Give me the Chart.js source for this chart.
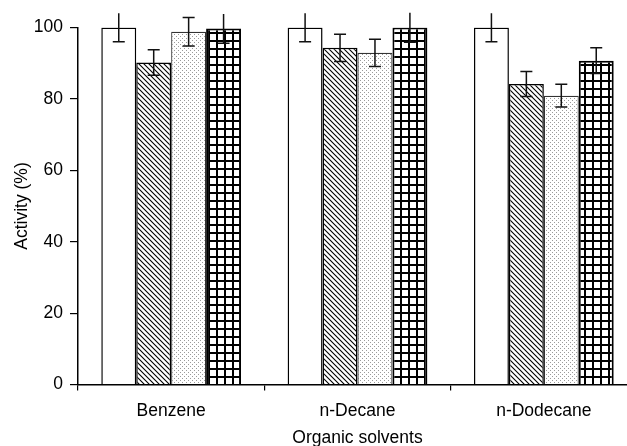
<!DOCTYPE html>
<html>
<head>
<meta charset="utf-8">
<script src="https://cdn.jsdelivr.net/npm/chart.js@4"></script>
<style>
  html, body { margin: 0; padding: 0; background: #fff; overflow: hidden; }
  #wrap { width: 640px; height: 446px; }
</style>
</head>
<body>
<div id="wrap"><canvas id="chart"></canvas></div>
<script>
const solvents = ["Benzene", "n-Decane", "n-Dodecane"];
const openValues = [100, 100, 100];
const openErrors = [4, 4, 4];
const hatchedValues = [90.2, 94.3, 84.2];
const hatchedErrors = [3.6, 3.8, 3.5];
const dottedValues = [98.8, 92.9, 80.9];
const dottedErrors = [4, 3.8, 3.2];
const gridValues = [99.7, 100, 90.7];
const gridErrors = [4.1, 4.1, 3.6];
const yTicks = [0, 20, 40, 60, 80, 100];

const FONT = { family: "'Liberation Sans', Arial, Helvetica, sans-serif", size: 17.5 };

// small canvas tiles used as bar fills
function makePattern(size, draw) {
  const c = document.createElement("canvas");
  c.width = size;
  c.height = size;
  const g = c.getContext("2d");
  g.fillStyle = "#fff";
  g.fillRect(0, 0, size, size);
  draw(g, size);
  return g.createPattern(c, "repeat");
}

const hatchFill = makePattern(5, (g, s) => {
  g.strokeStyle = "#000";
  g.lineWidth = 1.1;
  g.beginPath();
  g.moveTo(-1, -1); g.lineTo(s + 1, s + 1);
  g.moveTo(-1, s - 1); g.lineTo(1, s + 1);
  g.moveTo(s - 1, -1); g.lineTo(s + 1, 1);
  g.stroke();
});

const dotFill = makePattern(4, (g) => {
  g.fillStyle = "#9a9a9a";
  g.fillRect(0, 0, 1, 1);
  g.fillRect(2, 2, 1, 1);
});

const gridFill = makePattern(8, (g, s) => {
  g.fillStyle = "#000";
  g.fillRect(0, 0, 2, s);
  g.fillRect(0, 0, s, 2);
});

const errorBars = {
  id: "errorBars",
  afterDatasetsDraw(chart) {
    const ctx = chart.ctx;
    const y = chart.scales.y;
    ctx.save();
    ctx.strokeStyle = "#111";
    ctx.lineWidth = 1.5;
    chart.data.datasets.forEach((ds, i) => {
      chart.getDatasetMeta(i).data.forEach((bar, j) => {
        const hi = ds.data[j] + ds.errors[j];
        const lo = ds.data[j] - ds.errors[j];
        const yHi = y.getPixelForValue(hi);
        const yLo = y.getPixelForValue(lo);
        ctx.beginPath();
        ctx.moveTo(bar.x, yHi);
        ctx.lineTo(bar.x, yLo);
        // caps that stick out above the original frame were cut off
        if (hi < 103.5) {
          ctx.moveTo(bar.x - 6, yHi);
          ctx.lineTo(bar.x + 6, yHi);
        }
        ctx.moveTo(bar.x - 6, yLo);
        ctx.lineTo(bar.x + 6, yLo);
        ctx.stroke();
      });
    });
    ctx.restore();
  }
};

new Chart(document.getElementById("chart"), {
  type: "bar",
  data: {
    labels: solvents,
    datasets: [
      { label: "Open", data: openValues, errors: openErrors, backgroundColor: "#fff", borderColor: "#000", borderWidth: 1.5 },
      { label: "Hatched", data: hatchedValues, errors: hatchedErrors, backgroundColor: hatchFill, borderColor: "#000", borderWidth: 1.5 },
      { label: "Dotted", data: dottedValues, errors: dottedErrors, backgroundColor: dotFill, borderColor: "#333", borderWidth: 1.2 },
      { label: "Grid", data: gridValues, errors: gridErrors, backgroundColor: gridFill, borderColor: "#000", borderWidth: 2 },
    ],
  },
  options: {
    responsive: true,
    maintainAspectRatio: false,
    animation: false,
    layout: { padding: { top: 27.5, right: 3, bottom: 0, left: 0 } },
    plugins: {
      legend: { display: false },
      tooltip: { enabled: false },
    },
    datasets: {
      bar: { categoryPercentage: 0.75, barPercentage: 1.0 },
    },
    scales: {
      x: {
        grid: { drawOnChartArea: false, drawTicks: true, tickLength: 6, color: "#000", lineWidth: 1.2 },
        border: { display: true, color: "#000", width: 1.5 },
        ticks: { color: "#000", font: FONT, padding: 10, maxRotation: 0 },
        title: { display: true, text: "Organic solvents", color: "#000", font: FONT, padding: { top: 0, bottom: -3 } },
        afterFit: (scale) => { scale.height = 61.5; },
      },
      y: {
        min: 0,
        max: 100,
        afterBuildTicks: (scale) => { scale.ticks = yTicks.map((v) => ({ value: v })); },
        grid: { drawOnChartArea: false, drawTicks: true, tickLength: 8, color: "#000", lineWidth: 1.2 },
        border: { display: true, color: "#000", width: 1.5 },
        ticks: { color: "#000", font: FONT, padding: 7 },
        title: { display: true, text: "Activity (%)", color: "#000", font: FONT, padding: { top: 12, bottom: 0 } },
        afterFit: (scale) => { scale.width = 78; },
      },
    },
  },
  plugins: [errorBars],
});
</script>
</body>
</html>
